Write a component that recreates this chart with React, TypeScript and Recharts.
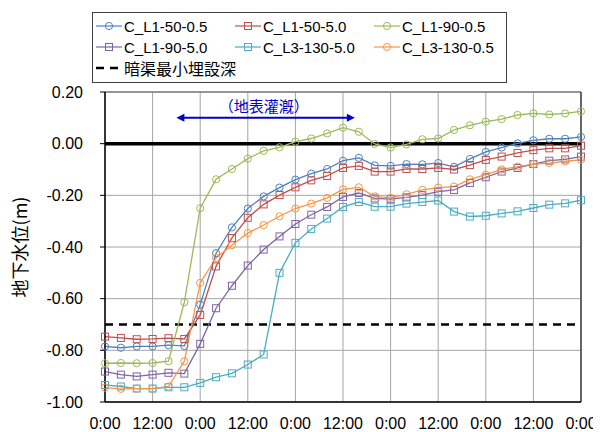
import { CartesianGrid, Line, LineChart, ReferenceLine, XAxis, YAxis } from 'recharts';

// elapsed hours, one reading every 4 h over 5 days
const hours = [0, 4, 8, 12, 16, 20, 24, 28, 32, 36, 40, 44, 48, 52, 56, 60, 64, 68, 72, 76, 80, 84, 88, 92, 96, 100, 104, 108, 112, 116, 120];

const cL1_50_05 = [-0.785, -0.79, -0.785, -0.785, -0.78, -0.783, -0.623, -0.424, -0.324, -0.251, -0.204, -0.17, -0.139, -0.116, -0.098, -0.066, -0.055, -0.084, -0.086, -0.079, -0.08, -0.075, -0.09, -0.059, -0.032, -0.015, 0.001, 0.013, 0.019, 0.019, 0.026];
const cL1_50_50 = [-0.747, -0.752, -0.757, -0.756, -0.753, -0.756, -0.663, -0.475, -0.365, -0.287, -0.235, -0.199, -0.169, -0.142, -0.125, -0.094, -0.086, -0.108, -0.108, -0.098, -0.098, -0.094, -0.1, -0.083, -0.063, -0.05, -0.036, -0.025, -0.018, -0.018, -0.008];
const cL1_90_05 = [-0.85, -0.849, -0.85, -0.849, -0.842, -0.614, -0.25, -0.138, -0.098, -0.058, -0.028, -0.014, 0.008, 0.02, 0.04, 0.062, 0.046, -0.001, -0.015, -0.003, 0.017, 0.02, 0.053, 0.071, 0.085, 0.095, 0.111, 0.117, 0.113, 0.117, 0.125];
const cL1_90_50 = [-0.882, -0.894, -0.901, -0.894, -0.887, -0.89, -0.775, -0.637, -0.55, -0.472, -0.41, -0.359, -0.311, -0.275, -0.245, -0.206, -0.191, -0.212, -0.215, -0.208, -0.199, -0.186, -0.179, -0.152, -0.13, -0.108, -0.094, -0.079, -0.066, -0.061, -0.05];
const cL3_130_50 = [-0.934, -0.94, -0.948, -0.948, -0.943, -0.943, -0.926, -0.904, -0.889, -0.855, -0.816, -0.5, -0.384, -0.33, -0.29, -0.245, -0.226, -0.244, -0.244, -0.232, -0.226, -0.22, -0.263, -0.282, -0.279, -0.27, -0.262, -0.249, -0.236, -0.231, -0.219];
const cL3_130_05 = [-0.944, -0.949, -0.948, -0.948, -0.94, -0.842, -0.539, -0.442, -0.393, -0.346, -0.315, -0.281, -0.251, -0.232, -0.21, -0.177, -0.169, -0.204, -0.21, -0.196, -0.179, -0.17, -0.166, -0.138, -0.12, -0.1, -0.089, -0.079, -0.075, -0.068, -0.063];

const xTicks = [0, 12, 24, 36, 48, 60, 72, 84, 96, 108, 120];
const yTicks = [-1, -0.8, -0.6, -0.4, -0.2, 0, 0.2];
const drainDepth = -0.7;
const irrigationStart = 18;
const irrigationEnd = 63;
const irrigationLevel = 0.1;

const series = [
  { key: 'C_L1-50-0.5', values: cL1_50_05, color: '#4F81BD', marker: 'circle' },
  { key: 'C_L1-50-5.0', values: cL1_50_50, color: '#C0504D', marker: 'square' },
  { key: 'C_L1-90-0.5', values: cL1_90_05, color: '#9BBB59', marker: 'circle' },
  { key: 'C_L1-90-5.0', values: cL1_90_50, color: '#8064A2', marker: 'square' },
  { key: 'C_L3-130-5.0', values: cL3_130_50, color: '#4BACC6', marker: 'square' },
  { key: 'C_L3-130-0.5', values: cL3_130_05, color: '#F79646', marker: 'circle' },
];

const chartData = hours.map((h, i) => {
  const row: { [k: string]: number } = { h };
  series.forEach((s) => {
    row[s.key] = s.values[i];
  });
  return row;
});

const FONT = '"Liberation Sans", Arial, "Noto Sans CJK JP", sans-serif';

const makeDot = (color: string, marker: string) => (props: any) => {
  const { cx, cy, index } = props;
  if (cx == null || cy == null) return <g key={index} />;
  if (marker === 'square') {
    return <rect key={index} x={cx - 3.5} y={cy - 3.5} width={7} height={7} fill="none" stroke={color} strokeWidth={1} />;
  }
  return <circle key={index} cx={cx} cy={cy} r={3.6} fill="none" stroke={color} strokeWidth={1} />;
};

// arrow for the irrigation period, with its caption
const IrrigationArrow = (props: any) => {
  const { x1, y1, x2, y2 } = props;
  if (x1 == null) return null;
  return (
    <g>
      <line x1={x1 + 6} y1={y1} x2={x2 - 6} y2={y2} stroke="#0000CC" strokeWidth={2} />
      <polygon points={`${x1},${y1} ${x1 + 8},${y1 - 4} ${x1 + 8},${y1 + 4}`} fill="#0000CC" />
      <polygon points={`${x2},${y2} ${x2 - 8},${y2 - 4} ${x2 - 8},${y2 + 4}`} fill="#0000CC" />
      <text x={(x1 + x2) / 2 - 2} y={y1 - 6} textAnchor="middle" fill="#0000CC" fontSize={15} fontFamily='"Noto Sans CJK JP", sans-serif'>
        （地表灌漑）
      </text>
    </g>
  );
};

const LegendKey = ({ color, marker }: { color: string; marker: string }) => (
  <svg width={26} height={10} style={{ display: 'block' }}>
    <line x1={0} y1={5} x2={26} y2={5} stroke={color} strokeWidth={1.2} />
    {marker === 'square' ? (
      <rect x={9.5} y={1.5} width={7} height={7} fill="none" stroke={color} />
    ) : (
      <circle cx={13} cy={5} r={3.6} fill="none" stroke={color} />
    )}
  </svg>
);

const ChartLegend = () => (
  <div
    style={{
      position: 'absolute',
      left: 84,
      top: 4,
      width: 413,
      height: 69,
      border: '1px solid #404040',
      background: 'white',
      fontFamily: FONT,
      fontSize: 15,
      color: '#000',
    }}
  >
    {series.map((s, i) => (
      <div
        key={s.key}
        style={{
          position: 'absolute',
          left: 3 + (i % 3) * 139,
          top: 4 + Math.floor(i / 3) * 21,
          display: 'flex',
          alignItems: 'center',
          height: 18,
        }}
      >
        <LegendKey color={s.color} marker={s.marker} />
        <span style={{ marginLeft: 2 }}>{s.key}</span>
      </div>
    ))}
    <div style={{ position: 'absolute', left: 3, top: 46, display: 'flex', alignItems: 'center', height: 18 }}>
      <svg width={26} height={10} style={{ display: 'block' }}>
        <line x1={0} y1={5} x2={26} y2={5} stroke="#000" strokeWidth={2.5} strokeDasharray="8 6" />
      </svg>
      <span style={{ marginLeft: 2, fontFamily: '"Noto Sans CJK JP", sans-serif', fontSize: 16 }}>暗渠最小埋設深</span>
    </div>
  </div>
);

const GroundwaterChart = () => (
  <div style={{ position: 'relative', width: 593, height: 424 }}>
    <LineChart
      width={593}
      height={424}
      data={chartData}
      margin={{ top: 84, right: 20, bottom: 0, left: 0 }}
    >
      <CartesianGrid stroke="#a6a6a6" strokeWidth={1} />
      <XAxis
        dataKey="h"
        type="number"
        domain={[0, 120]}
        ticks={xTicks}
        tickFormatter={(v: number) => (v % 24 === 0 ? '0:00' : '12:00')}
        tickLine={false}
        tickSize={8}
        tickMargin={8}
        height={30}
        axisLine={{ stroke: '#000', strokeWidth: 1.5 }}
        tick={{ fill: '#000', fontSize: 16, fontFamily: FONT }}
        interval={0}
      />
      <YAxis
        type="number"
        domain={[-1, 0.2]}
        ticks={yTicks}
        tickFormatter={(v: number) => v.toFixed(2)}
        width={97}
        tickSize={5}
        tickMargin={17}
        axisLine={{ stroke: '#000', strokeWidth: 1.5 }}
        tickLine={{ stroke: '#000' }}
        tick={{ fill: '#000', fontSize: 16, fontFamily: FONT }}
        allowDataOverflow
        label={{
          value: '地下水位(m)',
          angle: -90,
          position: 'insideLeft',
          offset: 0,
          dx: 13,
          style: { fill: '#000', fontSize: 18, fontFamily: '"Noto Sans CJK JP", sans-serif', textAnchor: 'middle' },
        }}
      />
      <ReferenceLine y={0.2} stroke="#808080" strokeWidth={1.5} />
      <ReferenceLine x={120} stroke="#404040" strokeWidth={1.5} />
      <ReferenceLine y={0} stroke="#000" strokeWidth={3.5} />
      <ReferenceLine y={drainDepth} stroke="#000" strokeWidth={2.5} strokeDasharray="8 6" />
      <ReferenceLine
        segment={[
          { x: irrigationStart, y: irrigationLevel },
          { x: irrigationEnd, y: irrigationLevel },
        ]}
        shape={IrrigationArrow}
      />
      {series.map((s) => (
        <Line
          key={s.key}
          dataKey={s.key}
          type="linear"
          stroke={s.color}
          strokeWidth={1.3}
          dot={makeDot(s.color, s.marker)}
          isAnimationActive={false}
        />
      ))}
    </LineChart>
    <ChartLegend />
  </div>
);

export default function App() {
  return <GroundwaterChart />;
}
